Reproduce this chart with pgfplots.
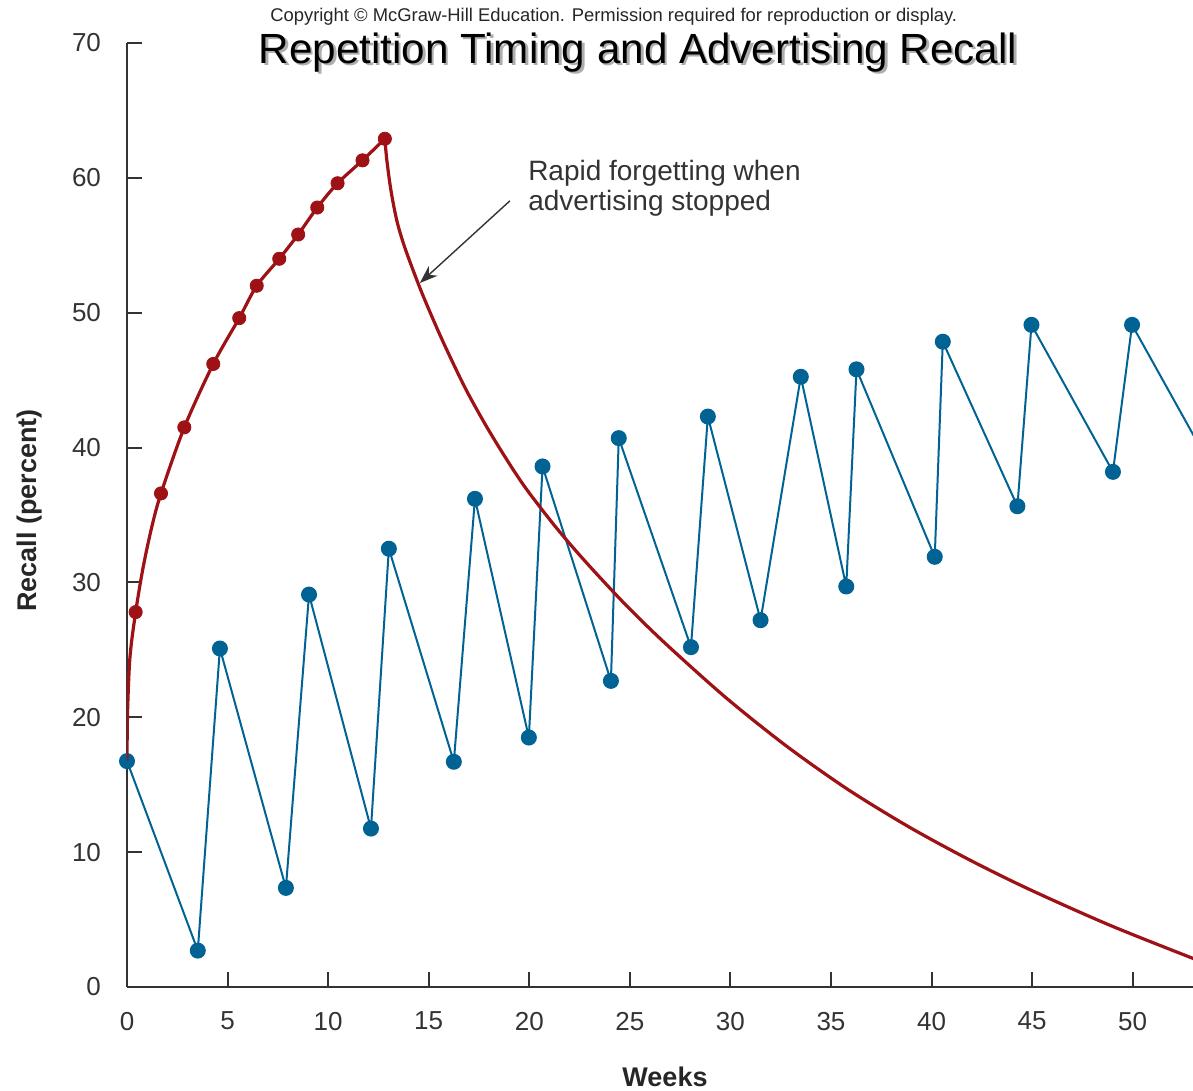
\documentclass[border=0pt]{standalone}
\usepackage{fontspec}
\setmainfont{Liberation Sans}
\usepackage{pgfplots}
\pgfplotsset{compat=1.18}
\usetikzlibrary{arrows.meta}
\definecolor{recred}{RGB}{158,18,22}
\definecolor{recblue}{RGB}{0,99,148}
\definecolor{axgray}{RGB}{51,51,51}

\begin{document}
\begin{tikzpicture}
\begin{axis}[
  scale only axis, width=533pt, height=472pt,
  xmin=0, xmax=53, ymin=0, ymax=70,
  axis x line*=bottom, axis y line*=left,
  axis line style={axgray, line width=1pt},
  xtick={0,5,...,50}, ytick={0,10,...,70},
  tick align=inside, major tick length=7.5pt,
  tick style={axgray, line width=1pt},
  /pgf/number format/assume math mode=true,
  tick label style={font=\fontsize{13}{15}\selectfont, text=axgray},
  xticklabel style={yshift=-9pt},
  yticklabel style={xshift=-9.5pt},
  xlabel={Weeks}, ylabel={Recall (percent)},
  label style={font=\fontsize{13.5}{16}\selectfont\bfseries, text=black!85},
  xlabel style={at={(axis description cs:0.5047,-0.0953)}, anchor=center},
  ylabel style={at={(axis description cs:-0.091,0.505)}, anchor=center},
  clip mode=individual,
]
\coordinate (O) at (rel axis cs:0,0);

% blue: pulsing schedule
\addplot[recblue, line width=1pt, mark=*, mark size=3.5pt, mark options={solid}] coordinates {
(0,16.75) (3.52,2.7) (4.62,25.1) (7.9,7.35) (9.05,29.1) (12.13,11.75)
(13.02,32.5) (16.25,16.7) (17.3,36.2) (19.98,18.5) (20.66,38.6) (24.06,22.7)
(24.45,40.7) (28.04,25.2) (28.88,42.3) (31.5,27.2) (33.5,45.25) (35.76,29.7)
(36.27,45.8) (40.16,31.9) (40.56,47.85) (44.27,35.65) (44.97,49.1) (49.02,38.2)
(49.97,49.1)};
\addplot[recblue, line width=1pt] coordinates {(49.97,49.1) (54,38.3)};

% red: concentrated schedule, rising
\addplot[recred, line width=1.6pt, smooth] coordinates {
(0,16.8) (0.03,20.5) (0.15,24.5) (0.43,27.8) (0.8,31.1) (1.23,34.1) (1.69,36.6)
(2.85,41.5) (4.29,46.2) (5.58,49.6) (6.45,52.0) (7.57,54.0) (8.51,55.8)
(9.46,57.8) (10.47,59.6) (11.71,61.3) (12.82,62.9)};
% red: decay after advertising stopped
\addplot[recred, line width=1.6pt, smooth] coordinates {
(12.82,62.9) (12.92,61.3) (13.12,59.1) (13.42,56.8) (13.82,54.8) (14.52,52.0)
(15.12,49.85) (15.82,47.5) (16.82,44.4) (17.82,41.7) (18.82,39.25) (19.82,37.0)
(21.32,34.1) (22.82,31.5) (24.82,28.3) (26.82,25.4) (29.82,21.4) (32.82,17.83)
(35.82,14.67) (38.82,11.92) (41.82,9.48) (44.82,7.27) (48.82,4.61) (53,2.12) (54,1.56)};
\addplot[recred, only marks, mark=*, mark size=3.3pt] coordinates {
(0.43,27.8) (1.69,36.6) (2.85,41.5) (4.29,46.2) (5.58,49.6) (6.45,52.0)
(7.57,54.0) (8.51,55.8) (9.46,57.8) (10.47,59.6) (11.71,61.3) (12.82,62.9)};

% annotation
\draw[axgray, line width=0.7pt, -{Stealth[length=9pt,width=6.5pt]}] (axis cs:19.04,58.3) -- (axis cs:14.56,52.2);
\node[anchor=base west, inner sep=0pt, text=axgray, font=\fontsize{14}{15.5}\selectfont] at (axis cs:19.93,59.8) {Rapid forgetting when};
\node[anchor=base west, inner sep=0pt, text=axgray, font=\fontsize{14}{15.5}\selectfont] at (axis cs:19.93,57.55) {advertising stopped};

% titles
\node[anchor=base, inner sep=0pt, text=black!45, opacity=0.7, font=\fontsize{21.1}{24}\selectfont] at ([xshift=1.3pt,yshift=-1.3pt]axis cs:25.4,68.5) {Repetition Timing and Advertising Recall};
\node[anchor=base, inner sep=0pt, text=black, font=\fontsize{21.1}{24}\selectfont] at (axis cs:25.4,68.5) {Repetition Timing and Advertising Recall};
\node[anchor=base, inner sep=0pt, text=black!85, font=\fontsize{9.2}{11}\selectfont] at (axis cs:24.2,71.6) {Copyright © McGraw-Hill Education. Permission required for reproduction or display.};
\end{axis}
\pgfresetboundingbox
\path[use as bounding box] (O) ++(-63.5pt,-52pt) rectangle ++(596.5pt,545.5pt);
\end{tikzpicture}
\end{document}
